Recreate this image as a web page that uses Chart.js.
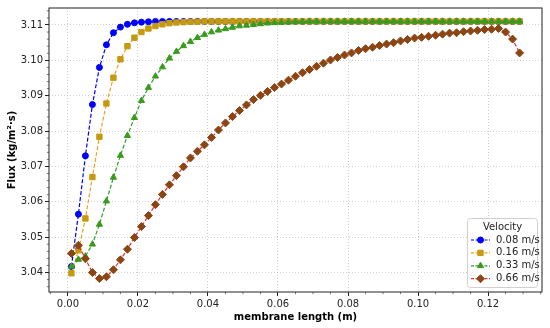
<!DOCTYPE html>
<html>
<head>
<meta charset="utf-8">
<script src="https://cdn.jsdelivr.net/npm/chart.js@4.4.0/dist/chart.umd.min.js"></script>
<style>
    html, body { margin: 0; padding: 0; background: #fff; }
    canvas { display: block; }
</style>
</head>
<body>
<canvas id="fluxChart" width="550" height="328"></canvas>
<script>
// membrane length (m)
var lengths = [0.001, 0.003, 0.005, 0.007, 0.009, 0.011, 0.013, 0.015, 0.017, 0.019,
    0.021, 0.023, 0.025, 0.027, 0.029, 0.031, 0.033, 0.035, 0.037, 0.039,
    0.041, 0.043, 0.045, 0.047, 0.049, 0.051, 0.053, 0.055, 0.057, 0.059,
    0.061, 0.063, 0.065, 0.067, 0.069, 0.071, 0.073, 0.075, 0.077, 0.079,
    0.081, 0.083, 0.085, 0.087, 0.089, 0.091, 0.093, 0.095, 0.097, 0.099,
    0.101, 0.103, 0.105, 0.107, 0.109, 0.111, 0.113, 0.115, 0.117, 0.119,
    0.121, 0.123, 0.125, 0.127, 0.129];

// flux (kg/m2.s) per velocity
var flux008 = [3.0417, 3.0565, 3.0730, 3.0875, 3.0980, 3.1044, 3.1078, 3.1094, 3.1102, 3.1106,
    3.1108, 3.1109, 3.1110, 3.1110, 3.1110, 3.1110, 3.1110, 3.1110, 3.1110, 3.1110,
    3.1110, 3.1110, 3.1110, 3.1110, 3.1110, 3.1110, 3.1110, 3.1110, 3.1110, 3.1110,
    3.1110, 3.1110, 3.1110, 3.1110, 3.1110, 3.1110, 3.1110, 3.1110, 3.1110, 3.1110,
    3.1110, 3.1110, 3.1110, 3.1110, 3.1110, 3.1110, 3.1110, 3.1110, 3.1110, 3.1110,
    3.1110, 3.1110, 3.1110, 3.1110, 3.1110, 3.1110, 3.1110, 3.1110, 3.1110, 3.1110,
    3.1110, 3.1110, 3.1110, 3.1110, 3.1110];
var flux016 = [3.0398, 3.0463, 3.0553, 3.0670, 3.0784, 3.0878, 3.0951, 3.1003, 3.1040, 3.1064,
    3.1080, 3.1090, 3.1097, 3.1102, 3.1105, 3.1107, 3.1108, 3.1109, 3.1109, 3.1110,
    3.1110, 3.1110, 3.1110, 3.1110, 3.1110, 3.1110, 3.1110, 3.1110, 3.1110, 3.1110,
    3.1110, 3.1110, 3.1110, 3.1110, 3.1110, 3.1110, 3.1110, 3.1110, 3.1110, 3.1110,
    3.1110, 3.1110, 3.1110, 3.1110, 3.1110, 3.1110, 3.1110, 3.1110, 3.1110, 3.1110,
    3.1110, 3.1110, 3.1110, 3.1110, 3.1110, 3.1110, 3.1110, 3.1110, 3.1110, 3.1110,
    3.1110, 3.1110, 3.1110, 3.1110, 3.1110];
var flux033 = [3.0417, 3.0437, 3.0446, 3.0480, 3.0536, 3.0602, 3.0669, 3.0731, 3.0787, 3.0838,
    3.0886, 3.0923, 3.0955, 3.0981, 3.1006, 3.1025, 3.1041, 3.1053, 3.1064, 3.1073,
    3.1080, 3.1085, 3.1089, 3.1093, 3.1097, 3.1099, 3.1101, 3.1103, 3.1105, 3.1106,
    3.1107, 3.1108, 3.1109, 3.1109, 3.1110, 3.1110, 3.1110, 3.1110, 3.1110, 3.1110,
    3.1110, 3.1110, 3.1110, 3.1110, 3.1110, 3.1110, 3.1110, 3.1110, 3.1110, 3.1110,
    3.1110, 3.1110, 3.1110, 3.1110, 3.1110, 3.1110, 3.1110, 3.1110, 3.1110, 3.1110,
    3.1110, 3.1110, 3.1110, 3.1110, 3.1110];
var flux066 = [3.0454, 3.0477, 3.0439, 3.0400, 3.0383, 3.0388, 3.0408, 3.0436, 3.0466, 3.0499,
    3.0530, 3.0561, 3.0592, 3.0621, 3.0648, 3.0674, 3.0699, 3.0724, 3.0743, 3.0761,
    3.0782, 3.0803, 3.0823, 3.0841, 3.0858, 3.0874, 3.0889, 3.0901, 3.0912, 3.0923,
    3.0933, 3.0944, 3.0955, 3.0965, 3.0974, 3.0983, 3.0992, 3.1001, 3.1008, 3.1015,
    3.1021, 3.1028, 3.1033, 3.1037, 3.1042, 3.1046, 3.1050, 3.1055, 3.1059, 3.1063,
    3.1065, 3.1068, 3.1071, 3.1074, 3.1077, 3.1078, 3.1081, 3.1083, 3.1085, 3.1087,
    3.1088, 3.1090, 3.1080, 3.1060, 3.1021];

var velocityLabels = ['0.08 m/s', '0.16 m/s', '0.33 m/s', '0.66 m/s'];
var xTicks = [0, 0.02, 0.04, 0.06, 0.08, 0.10, 0.12];
var yTicks = [3.04, 3.05, 3.06, 3.07, 3.08, 3.09, 3.10, 3.11];

var FONT = 'DejaVu Sans';

function points(ys) {
    return lengths.map(function (x, i) { return { x: x, y: ys[i] }; });
}

function serie(label, ys, lineColor, markerColor, style, radius, order) {
    return {
        label: label,
        data: points(ys),
        showLine: true,
        borderColor: lineColor,
        backgroundColor: markerColor,
        pointBackgroundColor: markerColor,
        pointBorderColor: markerColor,
        pointBorderWidth: 1,
        pointStyle: style,
        pointRadius: radius,
        borderWidth: 1.2,
        borderDash: [4, 2],
        order: order
    };
}

// petits ticks secondaires + cadre
var minorTicks = {
    id: 'minorTicks',
    afterDraw: function (chart) {
        var ctx = chart.ctx, a = chart.chartArea;
        var xs = chart.scales.x, ys = chart.scales.y;
        ctx.save();
        ctx.strokeStyle = '#222';
        ctx.lineWidth = 0.6;
        ctx.beginPath();
        for (var k = -1; k <= 27; k++) {
            if (k % 4 === 0) continue;
            var px = xs.getPixelForValue(k * 0.005);
            if (px < a.left || px > a.right) continue;
            ctx.moveTo(px, a.bottom);
            ctx.lineTo(px, a.bottom + 2.2);
        }
        for (var j = -3; j <= 38; j++) {
            if (j % 5 === 0) continue;
            var py = ys.getPixelForValue(3.04 + j * 0.002);
            if (py < a.top || py > a.bottom) continue;
            ctx.moveTo(a.left, py);
            ctx.lineTo(a.left - 2.2, py);
        }
        ctx.stroke();
        ctx.strokeStyle = '#222';
        ctx.lineWidth = 1;
        ctx.strokeRect(a.left, a.top, a.right - a.left, a.bottom - a.top);
        ctx.restore();
    }
};

// legende dans le coin bas droit
var legendBox = {
    id: 'legendBox',
    afterDraw: function (chart) {
        var ctx = chart.ctx, a = chart.chartArea;
        var w = 70, h = 69, r = 3;
        var x0 = a.right - 4.5 - w, y0 = a.bottom - 4.5 - h;
        ctx.save();
        ctx.beginPath();
        ctx.moveTo(x0 + r, y0);
        ctx.lineTo(x0 + w - r, y0);
        ctx.arcTo(x0 + w, y0, x0 + w, y0 + r, r);
        ctx.lineTo(x0 + w, y0 + h - r);
        ctx.arcTo(x0 + w, y0 + h, x0 + w - r, y0 + h, r);
        ctx.lineTo(x0 + r, y0 + h);
        ctx.arcTo(x0, y0 + h, x0, y0 + h - r, r);
        ctx.lineTo(x0, y0 + r);
        ctx.arcTo(x0, y0, x0 + r, y0, r);
        ctx.closePath();
        ctx.fillStyle = 'rgba(255,255,255,0.85)';
        ctx.fill();
        ctx.strokeStyle = '#d0d0d0';
        ctx.lineWidth = 1;
        ctx.stroke();

        ctx.fillStyle = '#222';
        ctx.font = '10px "' + FONT + '"';
        ctx.textAlign = 'center';
        ctx.textBaseline = 'middle';
        ctx.fillText('Velocity', x0 + w / 2, y0 + 8.5);

        ctx.textAlign = 'left';
        chart.data.datasets.forEach(function (ds, i) {
            var y = y0 + 21.5 + i * 12.9;
            ctx.setLineDash([3, 1.5]);
            ctx.strokeStyle = ds.borderColor;
            ctx.lineWidth = 1.2;
            ctx.beginPath();
            ctx.moveTo(x0 + 3.5, y);
            ctx.lineTo(x0 + 22.5, y);
            ctx.stroke();
            ctx.setLineDash([]);
            ctx.fillStyle = ds.pointBackgroundColor;
            ctx.strokeStyle = ds.pointBorderColor;
            ctx.lineWidth = 1;
            Chart.helpers.drawPoint(ctx, { pointStyle: ds.pointStyle, radius: ds.pointRadius, borderWidth: 1, rotation: 0 }, x0 + 13, y);
            ctx.fillStyle = '#222';
            ctx.fillText(ds.label, x0 + 28.5, y);
        });
        ctx.restore();
    }
};

var ctx = document.getElementById('fluxChart').getContext('2d');
var fluxChart = new Chart(ctx, {
    type: 'scatter',
    data: {
        datasets: [
            serie(velocityLabels[0], flux008, '#0000ff', '#0000ff', 'circle', 3, 3),
            serie(velocityLabels[1], flux016, '#f0a020', '#c49a10', 'rect', 3.8, 2),
            serie(velocityLabels[2], flux033, '#2ca02c', '#3a9a1c', 'triangle', 3.6, 1),
            serie(velocityLabels[3], flux066, '#e03030', '#8b4513', 'rectRot', 4, 0)
        ]
    },
    options: {
        responsive: false,
        animation: false,
        devicePixelRatio: 1,
        layout: { padding: { top: 7, right: 8, left: 0, bottom: 0 } },
        plugins: {
            legend: { display: false },
            tooltip: { enabled: false }
        },
        scales: {
            x: {
                type: 'linear',
                min: -0.0054,
                max: 0.1354,
                afterBuildTicks: function (s) { s.ticks = xTicks.map(function (v) { return { value: v }; }); },
                afterFit: function (s) { s.height = 36; },
                ticks: {
                    callback: function (v) { return v.toFixed(2); },
                    font: { family: FONT, size: 10 },
                    color: '#222',
                    padding: 2,
                    maxRotation: 0,
                    autoSkip: false
                },
                grid: { color: '#c4c4c4', lineWidth: 0.8, tickColor: '#222', tickLength: 4, tickWidth: 1 },
                border: { display: false, dash: [1, 2] },
                title: {
                    display: true,
                    text: 'membrane length (m)',
                    font: { family: FONT, size: 10, weight: 'bold' },
                    color: '#000',
                    padding: { top: 0, bottom: 5 }
                }
            },
            y: {
                min: 3.0345,
                max: 3.1148,
                afterBuildTicks: function (s) { s.ticks = yTicks.map(function (v) { return { value: v }; }); },
                afterFit: function (s) { s.width = 49; },
                ticks: {
                    callback: function (v) { return v.toFixed(2); },
                    font: { family: FONT, size: 10 },
                    color: '#222',
                    padding: 2,
                    autoSkip: false
                },
                grid: { color: '#c4c4c4', lineWidth: 0.8, tickColor: '#222', tickLength: 4, tickWidth: 1 },
                border: { display: false, dash: [1, 2] },
                title: {
                    display: true,
                    text: 'Flux (kg/m²·s)',
                    font: { family: FONT, size: 10, weight: 'bold' },
                    color: '#000',
                    padding: { top: 6, bottom: 0 }
                }
            }
        }
    },
    plugins: [minorTicks, legendBox]
});
</script>
</body>
</html>
